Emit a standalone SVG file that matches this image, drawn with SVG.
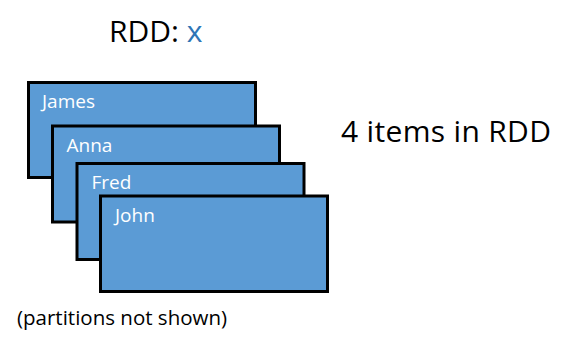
<svg xmlns="http://www.w3.org/2000/svg" width="566" height="337" viewBox="0 0 566 337">
<style>
.card{fill:#5B9BD5;stroke:#000;stroke-width:3}
.lbl{font-family:"Open Sans","Liberation Sans",sans-serif;font-size:19px;fill:#fff}
.big{font-family:"Open Sans","Liberation Sans",sans-serif;font-size:30px;fill:#000}
.note{font-family:"Open Sans","Liberation Sans",sans-serif;font-size:20.5px;fill:#000}
</style>
<rect width="566" height="337" fill="#fff"/>
<text class="big" x="109" y="42">RDD: <tspan fill="#2E75B6">x</tspan></text>
<g id="james"><rect class="card" x="28.5" y="82.5" width="227" height="95"/><text class="lbl" x="42" y="108">James</text></g>
<g id="anna"><rect class="card" x="52.5" y="126" width="227" height="96"/><text class="lbl" x="66.5" y="152">Anna</text></g>
<g id="fred"><rect class="card" x="77" y="163.5" width="227" height="96"/><text class="lbl" x="91.5" y="189">Fred</text></g>
<g id="john"><rect class="card" x="100.5" y="196" width="227" height="95.5"/><text class="lbl" x="115" y="221.5">John</text></g>
<g id="connectors"></g>
<text class="big" x="341" y="142" textLength="210">4 items in RDD</text>
<text class="note" x="17" y="325">(partitions not shown)</text>
</svg>
